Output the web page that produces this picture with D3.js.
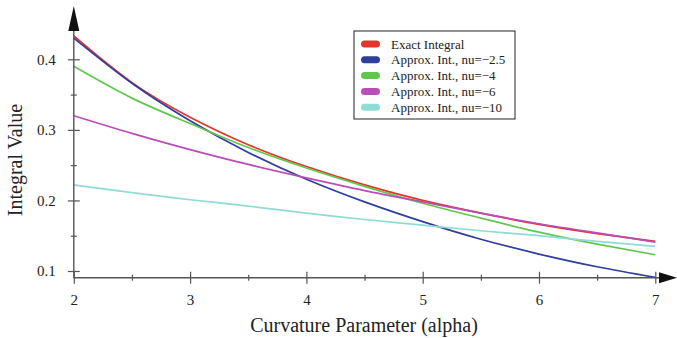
<!DOCTYPE html>
<html>
<head>
<meta charset="utf-8">
<script src="https://cdn.jsdelivr.net/npm/d3@7/dist/d3.min.js"></script>
<style>
  html, body { margin: 0; padding: 0; background: #fff; }
  svg { display: block; }
  svg text { font-family: "Liberation Serif", "Times New Roman", serif; }
</style>
</head>
<body>
<svg id="chart" width="677" height="338"></svg>
<script>
// Curvature parameter samples
const alpha = [2, 2.5, 3, 3.5, 4, 4.5, 5, 5.5, 6, 6.5, 7];

// Integral values per series
const exactIntegral = [0.433, 0.367, 0.318, 0.279, 0.248, 0.222, 0.200, 0.182, 0.166, 0.153, 0.142];
const approxNu25   = [0.430, 0.366, 0.313, 0.268, 0.230, 0.198, 0.170, 0.145, 0.124, 0.106, 0.091];
const approxNu4    = [0.390, 0.345, 0.309, 0.275, 0.246, 0.220, 0.196, 0.175, 0.155, 0.138, 0.123];
const approxNu6    = [0.320, 0.295, 0.272, 0.251, 0.232, 0.214, 0.198, 0.182, 0.167, 0.154, 0.141];
const approxNu10   = [0.222, 0.211, 0.201, 0.192, 0.182, 0.173, 0.165, 0.157, 0.150, 0.142, 0.135];

const seriesNames  = ["Exact Integral", "Approx. Int., nu=\u22122.5", "Approx. Int., nu=\u22124",
                      "Approx. Int., nu=\u22126", "Approx. Int., nu=\u221210"];
const seriesValues = [exactIntegral, approxNu25, approxNu4, approxNu6, approxNu10];
const seriesColors = ["#e2352b", "#2e3f9c", "#5fc84c", "#bb4db9", "#8fdcd6"];

const xTicks = [2, 3, 4, 5, 6, 7];
const xMinorTicks = [2.5, 3.5, 4.5, 5.5, 6.5];
const yTicks = [0.1, 0.2, 0.3, 0.4];
const yMinorTicks = [0.15, 0.25, 0.35];

const svg = d3.select("#chart");
const axisColor = "#555";
const textColor = "#222";
const serif = '"Liberation Serif", "Times New Roman", serif';

const x = d3.scaleLinear().domain([2, 7]).range([73.8, 655.3]);
const y = d3.scaleLinear().domain([0.1, 0.4]).range([271, 59.3]);
const axisY = 277.7;   // pixel row of the horizontal axis
const axisX = x(2);    // pixel column of the vertical axis

// Curves
const line = d3.line()
  .x((d, i) => x(alpha[i]))
  .y(d => y(d))
  .curve(d3.curveNatural);

svg.append("g").selectAll("path")
  .data(seriesValues)
  .join("path")
  .attr("d", d => line(d))
  .attr("fill", "none")
  .attr("stroke", (d, i) => seriesColors[i])
  .attr("stroke-width", 1.7);

// Axes: ticks cross the axis line on both sides
function styleAxis(g, half, horizontal) {
  g.attr("font-family", serif).attr("font-size", 15);
  g.select(".domain").remove();
  g.selectAll(".tick line")
    .attr("stroke", axisColor)
    .attr("stroke-width", 1.2)
    .attr(horizontal ? "y1" : "x1", -half)
    .attr(horizontal ? "y2" : "x2", half);
  g.selectAll(".tick text")
    .attr("fill", textColor)
    .style("font-family", serif)
    .style("font-size", "15px");
}

const xAxis = svg.append("g")
  .attr("transform", `translate(0,${axisY})`)
  .call(d3.axisBottom(x).tickValues(xTicks).tickFormat(d3.format("d")).tickSize(6).tickPadding(11));
styleAxis(xAxis, 6, true);

const xMinor = svg.append("g")
  .attr("transform", `translate(0,${axisY})`)
  .call(d3.axisBottom(x).tickValues(xMinorTicks).tickFormat("").tickSize(3));
styleAxis(xMinor, 3, true);

const yAxis = svg.append("g")
  .attr("transform", `translate(${axisX},0)`)
  .call(d3.axisLeft(y).tickValues(yTicks).tickFormat(d3.format(".1f")).tickSize(6).tickPadding(12));
styleAxis(yAxis, 6, false);

const yMinor = svg.append("g")
  .attr("transform", `translate(${axisX},0)`)
  .call(d3.axisLeft(y).tickValues(yMinorTicks).tickFormat("").tickSize(3));
styleAxis(yMinor, 3, false);

// Axis lines with arrow heads
svg.append("line")
  .attr("x1", axisX).attr("x2", 662).attr("y1", axisY).attr("y2", axisY)
  .attr("stroke", axisColor).attr("stroke-width", 1.4);
svg.append("line")
  .attr("x1", axisX).attr("x2", axisX).attr("y1", axisY).attr("y2", 26)
  .attr("stroke", axisColor).attr("stroke-width", 1.4);

svg.append("path")
  .attr("d", `M${axisX},6 L${axisX + 5.5},31 L${axisX - 5.5},31 Z`)
  .attr("fill", "#111");
svg.append("path")
  .attr("d", `M677,${axisY} L659,${axisY - 5.5} L659,${axisY + 5.5} Z`)
  .attr("fill", "#111");

// Axis titles
svg.append("text")
  .attr("x", 364).attr("y", 332)
  .attr("text-anchor", "middle")
  .style("font-size", "20px").attr("fill", textColor)
  .text("Curvature Parameter (alpha)");

svg.append("text")
  .attr("transform", "translate(22,160) rotate(-90)")
  .attr("text-anchor", "middle")
  .style("font-size", "20px").attr("fill", textColor)
  .text("Integral Value");

// Legend
const legend = svg.append("g").attr("transform", "translate(354,31)");
legend.append("rect")
  .attr("x", 0).attr("y", 0).attr("width", 161).attr("height", 88)
  .attr("fill", "#fff").attr("stroke", "#222").attr("stroke-width", 1);

const rows = legend.selectAll("g.row")
  .data(seriesNames)
  .join("g")
  .attr("class", "row")
  .attr("transform", (d, i) => `translate(0,${13 + i * 15.8})`);

rows.append("rect")
  .attr("x", 7).attr("y", -3.5).attr("width", 19).attr("height", 7)
  .attr("rx", 3.5).attr("ry", 3.5)
  .attr("fill", (d, i) => seriesColors[i]);

rows.append("text")
  .attr("x", 37).attr("y", 4.5)
  .style("font-size", "13px").attr("fill", textColor)
  .text(d => d);
</script>
</body>
</html>
